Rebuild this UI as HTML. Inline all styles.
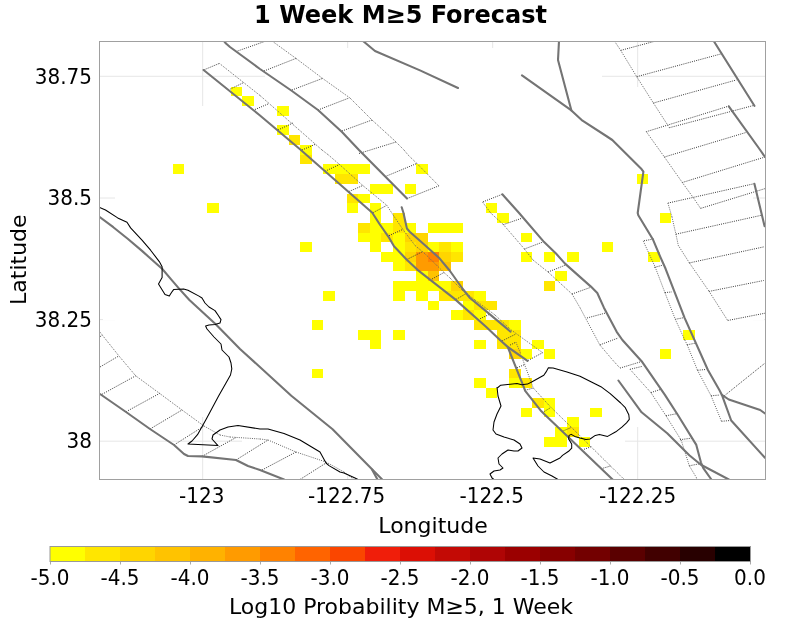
<!DOCTYPE html>
<html><head><meta charset="utf-8"><style>
html,body{margin:0;padding:0;background:#fff;width:800px;height:627px;overflow:hidden}
svg{display:block;will-change:transform}
text{font-family:"DejaVu Sans","Liberation Sans",sans-serif;fill:#000}
.t20{font-size:20px}
.t22{font-size:22px}
.title{font-size:24px;font-weight:bold}
</style></head><body>
<svg width="800" height="627" viewBox="0 0 800 627">
<defs><clipPath id="pc"><rect x="99.5" y="41.5" width="666.0" height="438.0"/></clipPath></defs>
<text x="400.5" y="23" class="title" text-anchor="middle">1 Week M≥5 Forecast</text>
<rect x="99.5" y="41.5" width="666.0" height="438.0" fill="#fff"/>
<g clip-path="url(#pc)">
<line x1="99.5" y1="76.3" x2="765.5" y2="76.3" stroke="#e6e6e6" stroke-width="1"/>
<line x1="99.5" y1="198.0" x2="765.5" y2="198.0" stroke="#e6e6e6" stroke-width="1"/>
<line x1="99.5" y1="319.6" x2="765.5" y2="319.6" stroke="#e6e6e6" stroke-width="1"/>
<line x1="99.5" y1="441.2" x2="765.5" y2="441.2" stroke="#e6e6e6" stroke-width="1"/>
<line x1="202.7" y1="41.5" x2="202.7" y2="479.5" stroke="#e6e6e6" stroke-width="1"/>
<line x1="347.7" y1="41.5" x2="347.7" y2="479.5" stroke="#e6e6e6" stroke-width="1"/>
<line x1="492.7" y1="41.5" x2="492.7" y2="479.5" stroke="#e6e6e6" stroke-width="1"/>
<line x1="637.7" y1="41.5" x2="637.7" y2="479.5" stroke="#e6e6e6" stroke-width="1"/>
<g shape-rendering="crispEdges" fill="#fff">
<rect x="416.14" y="37.92" width="34.80" height="9.73"/>
<rect x="334.94" y="47.65" width="197.20" height="9.73"/>
<rect x="288.54" y="57.38" width="290.00" height="9.73"/>
<rect x="265.34" y="67.11" width="336.40" height="9.73"/>
<rect x="242.14" y="76.84" width="382.80" height="9.73"/>
<rect x="218.94" y="86.57" width="429.20" height="9.73"/>
<rect x="207.34" y="96.30" width="452.40" height="9.73"/>
<rect x="184.14" y="106.03" width="498.80" height="9.73"/>
<rect x="172.54" y="115.76" width="522.00" height="9.73"/>
<rect x="160.94" y="125.49" width="545.20" height="9.73"/>
<rect x="149.34" y="135.22" width="568.40" height="9.73"/>
<rect x="137.74" y="144.95" width="591.60" height="9.73"/>
<rect x="137.74" y="154.68" width="591.60" height="9.73"/>
<rect x="126.14" y="164.41" width="614.80" height="9.73"/>
<rect x="114.54" y="174.14" width="638.00" height="9.73"/>
<rect x="114.54" y="183.87" width="638.00" height="9.73"/>
<rect x="114.54" y="193.60" width="638.00" height="9.73"/>
<rect x="102.94" y="203.33" width="661.20" height="9.73"/>
<rect x="102.94" y="213.06" width="661.20" height="9.73"/>
<rect x="102.94" y="222.79" width="661.20" height="9.73"/>
<rect x="102.94" y="232.52" width="661.20" height="9.73"/>
<rect x="91.34" y="242.25" width="684.40" height="9.73"/>
<rect x="91.34" y="251.98" width="684.40" height="9.73"/>
<rect x="91.34" y="261.71" width="684.40" height="9.73"/>
<rect x="91.34" y="271.44" width="684.40" height="9.73"/>
<rect x="102.94" y="281.17" width="661.20" height="9.73"/>
<rect x="102.94" y="290.90" width="661.20" height="9.73"/>
<rect x="102.94" y="300.63" width="661.20" height="9.73"/>
<rect x="102.94" y="310.36" width="661.20" height="9.73"/>
<rect x="114.54" y="320.09" width="638.00" height="9.73"/>
<rect x="114.54" y="329.82" width="638.00" height="9.73"/>
<rect x="126.14" y="339.55" width="614.80" height="9.73"/>
<rect x="126.14" y="349.28" width="614.80" height="9.73"/>
<rect x="137.74" y="359.01" width="591.60" height="9.73"/>
<rect x="149.34" y="368.74" width="568.40" height="9.73"/>
<rect x="160.94" y="378.47" width="556.80" height="9.73"/>
<rect x="160.94" y="388.20" width="545.20" height="9.73"/>
<rect x="184.14" y="397.93" width="498.80" height="9.73"/>
<rect x="195.74" y="407.66" width="475.60" height="9.73"/>
<rect x="207.34" y="417.39" width="452.40" height="9.73"/>
<rect x="230.54" y="427.12" width="406.00" height="9.73"/>
<rect x="242.14" y="436.85" width="382.80" height="9.73"/>
<rect x="276.94" y="446.58" width="313.20" height="9.73"/>
<rect x="300.14" y="456.31" width="266.80" height="9.73"/>
<rect x="346.54" y="466.04" width="174.00" height="9.73"/>
</g>
<g shape-rendering="crispEdges">
<rect x="172.54" y="164.41" width="11.6" height="9.73" fill="rgb(255, 255, 0)"/>
<rect x="207.34" y="203.33" width="11.6" height="9.73" fill="rgb(255, 255, 0)"/>
<rect x="230.54" y="86.57" width="11.6" height="9.73" fill="rgb(255, 255, 0)"/>
<rect x="242.14" y="96.30" width="11.6" height="9.73" fill="rgb(255, 255, 0)"/>
<rect x="276.94" y="106.03" width="11.6" height="9.73" fill="rgb(255, 255, 0)"/>
<rect x="276.94" y="125.49" width="11.6" height="9.73" fill="rgb(255, 255, 0)"/>
<rect x="288.54" y="135.22" width="11.6" height="9.73" fill="rgb(255, 230, 0)"/>
<rect x="300.14" y="144.95" width="11.6" height="9.73" fill="rgb(255, 255, 0)"/>
<rect x="300.14" y="154.68" width="11.6" height="9.73" fill="rgb(255, 230, 0)"/>
<rect x="323.34" y="164.41" width="11.6" height="9.73" fill="rgb(255, 255, 0)"/>
<rect x="334.94" y="164.41" width="11.6" height="9.73" fill="rgb(255, 255, 0)"/>
<rect x="346.54" y="164.41" width="11.6" height="9.73" fill="rgb(255, 255, 0)"/>
<rect x="358.14" y="164.41" width="11.6" height="9.73" fill="rgb(255, 255, 0)"/>
<rect x="416.14" y="164.41" width="11.6" height="9.73" fill="rgb(255, 255, 0)"/>
<rect x="334.94" y="174.14" width="11.6" height="9.73" fill="rgb(255, 230, 0)"/>
<rect x="346.54" y="174.14" width="11.6" height="9.73" fill="rgb(255, 230, 0)"/>
<rect x="369.74" y="183.87" width="11.6" height="9.73" fill="rgb(255, 255, 0)"/>
<rect x="381.34" y="183.87" width="11.6" height="9.73" fill="rgb(255, 255, 0)"/>
<rect x="404.54" y="183.87" width="11.6" height="9.73" fill="rgb(255, 255, 0)"/>
<rect x="346.54" y="193.60" width="11.6" height="9.73" fill="rgb(255, 230, 0)"/>
<rect x="358.14" y="193.60" width="11.6" height="9.73" fill="rgb(255, 255, 0)"/>
<rect x="346.54" y="203.33" width="11.6" height="9.73" fill="rgb(255, 255, 0)"/>
<rect x="369.74" y="203.33" width="11.6" height="9.73" fill="rgb(255, 255, 0)"/>
<rect x="485.74" y="203.33" width="11.6" height="9.73" fill="rgb(255, 255, 0)"/>
<rect x="369.74" y="213.06" width="11.6" height="9.73" fill="rgb(255, 255, 0)"/>
<rect x="392.94" y="213.06" width="11.6" height="9.73" fill="rgb(255, 230, 0)"/>
<rect x="497.34" y="213.06" width="11.6" height="9.73" fill="rgb(255, 255, 0)"/>
<rect x="659.74" y="213.06" width="11.6" height="9.73" fill="rgb(255, 255, 0)"/>
<rect x="636.54" y="174.14" width="11.6" height="9.73" fill="rgb(255, 255, 0)"/>
<rect x="358.14" y="222.79" width="11.6" height="9.73" fill="rgb(255, 230, 0)"/>
<rect x="369.74" y="222.79" width="11.6" height="9.73" fill="rgb(255, 255, 0)"/>
<rect x="381.34" y="222.79" width="11.6" height="9.73" fill="rgb(255, 255, 0)"/>
<rect x="392.94" y="222.79" width="11.6" height="9.73" fill="rgb(255, 230, 0)"/>
<rect x="404.54" y="222.79" width="11.6" height="9.73" fill="rgb(255, 255, 0)"/>
<rect x="427.74" y="222.79" width="11.6" height="9.73" fill="rgb(255, 255, 0)"/>
<rect x="439.34" y="222.79" width="11.6" height="9.73" fill="rgb(255, 255, 0)"/>
<rect x="450.94" y="222.79" width="11.6" height="9.73" fill="rgb(255, 255, 0)"/>
<rect x="358.14" y="232.52" width="11.6" height="9.73" fill="rgb(255, 255, 0)"/>
<rect x="369.74" y="232.52" width="11.6" height="9.73" fill="rgb(255, 255, 0)"/>
<rect x="381.34" y="232.52" width="11.6" height="9.73" fill="rgb(255, 230, 0)"/>
<rect x="392.94" y="232.52" width="11.6" height="9.73" fill="rgb(255, 255, 0)"/>
<rect x="404.54" y="232.52" width="11.6" height="9.73" fill="rgb(255, 213, 0)"/>
<rect x="416.14" y="232.52" width="11.6" height="9.73" fill="rgb(255, 213, 0)"/>
<rect x="520.54" y="232.52" width="11.6" height="9.73" fill="rgb(255, 255, 0)"/>
<rect x="300.14" y="242.25" width="11.6" height="9.73" fill="rgb(255, 255, 0)"/>
<rect x="369.74" y="242.25" width="11.6" height="9.73" fill="rgb(255, 255, 0)"/>
<rect x="392.94" y="242.25" width="11.6" height="9.73" fill="rgb(255, 255, 0)"/>
<rect x="404.54" y="242.25" width="11.6" height="9.73" fill="rgb(255, 230, 0)"/>
<rect x="416.14" y="242.25" width="11.6" height="9.73" fill="rgb(255, 213, 0)"/>
<rect x="427.74" y="242.25" width="11.6" height="9.73" fill="rgb(255, 255, 0)"/>
<rect x="439.34" y="242.25" width="11.6" height="9.73" fill="rgb(255, 230, 0)"/>
<rect x="450.94" y="242.25" width="11.6" height="9.73" fill="rgb(255, 255, 0)"/>
<rect x="601.74" y="242.25" width="11.6" height="9.73" fill="rgb(255, 255, 0)"/>
<rect x="381.34" y="251.98" width="11.6" height="9.73" fill="rgb(255, 255, 0)"/>
<rect x="392.94" y="251.98" width="11.6" height="9.73" fill="rgb(255, 255, 0)"/>
<rect x="404.54" y="251.98" width="11.6" height="9.73" fill="rgb(255, 213, 0)"/>
<rect x="416.14" y="251.98" width="11.6" height="9.73" fill="rgb(255, 155, 0)"/>
<rect x="427.74" y="251.98" width="11.6" height="9.73" fill="rgb(255, 130, 0)"/>
<rect x="439.34" y="251.98" width="11.6" height="9.73" fill="rgb(255, 213, 0)"/>
<rect x="450.94" y="251.98" width="11.6" height="9.73" fill="rgb(255, 230, 0)"/>
<rect x="520.54" y="251.98" width="11.6" height="9.73" fill="rgb(255, 255, 0)"/>
<rect x="543.74" y="251.98" width="11.6" height="9.73" fill="rgb(255, 255, 0)"/>
<rect x="566.94" y="251.98" width="11.6" height="9.73" fill="rgb(255, 255, 0)"/>
<rect x="648.14" y="251.98" width="11.6" height="9.73" fill="rgb(255, 255, 0)"/>
<rect x="392.94" y="261.71" width="11.6" height="9.73" fill="rgb(255, 255, 0)"/>
<rect x="404.54" y="261.71" width="11.6" height="9.73" fill="rgb(255, 230, 0)"/>
<rect x="416.14" y="261.71" width="11.6" height="9.73" fill="rgb(255, 155, 0)"/>
<rect x="427.74" y="261.71" width="11.6" height="9.73" fill="rgb(255, 155, 0)"/>
<rect x="439.34" y="261.71" width="11.6" height="9.73" fill="rgb(255, 195, 0)"/>
<rect x="416.14" y="271.44" width="11.6" height="9.73" fill="rgb(255, 255, 0)"/>
<rect x="427.74" y="271.44" width="11.6" height="9.73" fill="rgb(255, 195, 0)"/>
<rect x="555.34" y="271.44" width="11.6" height="9.73" fill="rgb(255, 255, 0)"/>
<rect x="392.94" y="281.17" width="11.6" height="9.73" fill="rgb(255, 255, 0)"/>
<rect x="404.54" y="281.17" width="11.6" height="9.73" fill="rgb(255, 255, 0)"/>
<rect x="416.14" y="281.17" width="11.6" height="9.73" fill="rgb(255, 255, 0)"/>
<rect x="427.74" y="281.17" width="11.6" height="9.73" fill="rgb(255, 255, 0)"/>
<rect x="439.34" y="281.17" width="11.6" height="9.73" fill="rgb(255, 255, 0)"/>
<rect x="450.94" y="281.17" width="11.6" height="9.73" fill="rgb(255, 213, 0)"/>
<rect x="543.74" y="281.17" width="11.6" height="9.73" fill="rgb(255, 230, 0)"/>
<rect x="323.34" y="290.90" width="11.6" height="9.73" fill="rgb(255, 255, 0)"/>
<rect x="392.94" y="290.90" width="11.6" height="9.73" fill="rgb(255, 255, 0)"/>
<rect x="416.14" y="290.90" width="11.6" height="9.73" fill="rgb(255, 255, 0)"/>
<rect x="439.34" y="290.90" width="11.6" height="9.73" fill="rgb(255, 230, 0)"/>
<rect x="450.94" y="290.90" width="11.6" height="9.73" fill="rgb(255, 230, 0)"/>
<rect x="462.54" y="290.90" width="11.6" height="9.73" fill="rgb(255, 230, 0)"/>
<rect x="474.14" y="290.90" width="11.6" height="9.73" fill="rgb(255, 255, 0)"/>
<rect x="427.74" y="300.63" width="11.6" height="9.73" fill="rgb(255, 255, 0)"/>
<rect x="462.54" y="300.63" width="11.6" height="9.73" fill="rgb(255, 255, 0)"/>
<rect x="474.14" y="300.63" width="11.6" height="9.73" fill="rgb(255, 230, 0)"/>
<rect x="485.74" y="300.63" width="11.6" height="9.73" fill="rgb(255, 230, 0)"/>
<rect x="450.94" y="310.36" width="11.6" height="9.73" fill="rgb(255, 255, 0)"/>
<rect x="462.54" y="310.36" width="11.6" height="9.73" fill="rgb(255, 230, 0)"/>
<rect x="474.14" y="310.36" width="11.6" height="9.73" fill="rgb(255, 255, 0)"/>
<rect x="311.74" y="320.09" width="11.6" height="9.73" fill="rgb(255, 255, 0)"/>
<rect x="474.14" y="320.09" width="11.6" height="9.73" fill="rgb(255, 230, 0)"/>
<rect x="485.74" y="320.09" width="11.6" height="9.73" fill="rgb(255, 230, 0)"/>
<rect x="497.34" y="320.09" width="11.6" height="9.73" fill="rgb(255, 230, 0)"/>
<rect x="508.94" y="320.09" width="11.6" height="9.73" fill="rgb(255, 255, 0)"/>
<rect x="358.14" y="329.82" width="11.6" height="9.73" fill="rgb(255, 255, 0)"/>
<rect x="369.74" y="329.82" width="11.6" height="9.73" fill="rgb(255, 255, 0)"/>
<rect x="392.94" y="329.82" width="11.6" height="9.73" fill="rgb(255, 255, 0)"/>
<rect x="497.34" y="329.82" width="11.6" height="9.73" fill="rgb(255, 230, 0)"/>
<rect x="508.94" y="329.82" width="11.6" height="9.73" fill="rgb(255, 230, 0)"/>
<rect x="682.94" y="329.82" width="11.6" height="9.73" fill="rgb(255, 255, 0)"/>
<rect x="369.74" y="339.55" width="11.6" height="9.73" fill="rgb(255, 255, 0)"/>
<rect x="474.14" y="339.55" width="11.6" height="9.73" fill="rgb(255, 255, 0)"/>
<rect x="497.34" y="339.55" width="11.6" height="9.73" fill="rgb(255, 230, 0)"/>
<rect x="508.94" y="339.55" width="11.6" height="9.73" fill="rgb(255, 230, 0)"/>
<rect x="532.14" y="339.55" width="11.6" height="9.73" fill="rgb(255, 255, 0)"/>
<rect x="508.94" y="349.28" width="11.6" height="9.73" fill="rgb(255, 213, 0)"/>
<rect x="520.54" y="349.28" width="11.6" height="9.73" fill="rgb(255, 255, 0)"/>
<rect x="543.74" y="349.28" width="11.6" height="9.73" fill="rgb(255, 255, 0)"/>
<rect x="659.74" y="349.28" width="11.6" height="9.73" fill="rgb(255, 255, 0)"/>
<rect x="311.74" y="368.74" width="11.6" height="9.73" fill="rgb(255, 255, 0)"/>
<rect x="508.94" y="368.74" width="11.6" height="9.73" fill="rgb(255, 230, 0)"/>
<rect x="474.14" y="378.47" width="11.6" height="9.73" fill="rgb(255, 255, 0)"/>
<rect x="508.94" y="378.47" width="11.6" height="9.73" fill="rgb(255, 255, 0)"/>
<rect x="520.54" y="378.47" width="11.6" height="9.73" fill="rgb(255, 230, 0)"/>
<rect x="485.74" y="388.20" width="11.6" height="9.73" fill="rgb(255, 255, 0)"/>
<rect x="532.14" y="397.93" width="11.6" height="9.73" fill="rgb(255, 230, 0)"/>
<rect x="543.74" y="397.93" width="11.6" height="9.73" fill="rgb(255, 255, 0)"/>
<rect x="520.54" y="407.66" width="11.6" height="9.73" fill="rgb(255, 255, 0)"/>
<rect x="543.74" y="407.66" width="11.6" height="9.73" fill="rgb(255, 255, 0)"/>
<rect x="590.14" y="407.66" width="11.6" height="9.73" fill="rgb(255, 255, 0)"/>
<rect x="566.94" y="417.39" width="11.6" height="9.73" fill="rgb(255, 255, 0)"/>
<rect x="555.34" y="427.12" width="11.6" height="9.73" fill="rgb(255, 255, 0)"/>
<rect x="566.94" y="427.12" width="11.6" height="9.73" fill="rgb(255, 230, 0)"/>
<rect x="543.74" y="436.85" width="11.6" height="9.73" fill="rgb(255, 255, 0)"/>
<rect x="555.34" y="436.85" width="11.6" height="9.73" fill="rgb(255, 255, 0)"/>
<rect x="578.54" y="436.85" width="11.6" height="9.73" fill="rgb(255, 255, 0)"/>
</g>
<path d="M203.6,70.0L219.4,63.4M542.6,352.7L527.5,360.8M230.4,89.0L243.6,82.6M255.0,109.5L269.0,103.6M278.0,130.0L293.0,123.0M302.0,150.0L316.0,144.0M325.0,171.3L339.5,164.5M348.8,191.6L362.8,185.5M372.8,212.8L386.5,205.5M389.0,235.7L402.4,229.6M407.5,259.2L422.0,251.9M432.0,279.0L444.0,272.5M456.0,299.5L467.0,293.0M480.2,318.7L490.0,314.0M501.9,341.0L515.9,334.0M510.0,345.1L515.9,342.2M438.9,185.8L407.0,198.6M237.6,51.0L266.0,41.0M264.0,71.0L296.0,58.4M292.0,90.0L322.0,78.6M318.0,110.0L349.0,98.0M342.0,131.0L372.0,120.0M359.0,153.5L396.0,142.0M386.6,176.0L417.0,163.4M502.3,194.3L482.5,202.0M620.0,368.1L640.0,362.0M503.4,224.6L522.0,218.2M524.4,249.0L543.0,242.0M548.0,272.0L565.0,265.3M572.0,294.0L590.5,287.4M587.0,318.0L605.6,313.0M599.8,344.9L618.4,337.9M653.6,239.0L643.2,240.9M721.5,421.3L730.2,420.5M654.4,267.4L662.3,265.3M664.9,292.6L671.9,291.9M675.3,319.3L683.5,317.7M687.2,344.8L695.2,343.2M697.5,370.3L705.5,369.5M711.1,395.8L719.9,395.0M641.6,366.5L630.0,369.3M650.9,392.6L661.4,389.1M666.0,415.8L677.7,413.5M680.0,439.7L692.0,438.1M689.3,465.8L700.9,463.5M517.0,367.8L525.2,364.3M525.2,390.3L533.3,388.0M543.8,411.8L550.0,408.0M563.5,430.8L570.7,427.7M584.0,449.3L591.2,446.7M603.3,468.1L611.4,465.8M669.4,127.7L754.6,105.2M620.7,50.4L655.8,41.0M636.7,76.7L720.7,54.0M653.4,103.0L736.3,80.0M729.1,106.0L646.3,131.7M700.6,208.4L766.0,188.3M664.4,157.0L746.6,132.3M682.3,182.5L765.0,157.0M754.6,183.6L667.9,203.1M727.7,320.5L766.0,313.0M675.9,234.2L761.8,215.2M689.4,262.9L764.6,246.7M709.1,291.4L763.7,280.5M722.3,397.4L766.0,362.3M100.0,336.7L102.2,335.2M100.0,367.0L118.9,355.9M102.2,394.2L135.7,375.8M126.1,411.7L159.6,393.4M150.0,429.0L182.0,410.0M174.0,445.0L204.0,426.0M202.0,456.4L236.0,437.5M236.0,460.0L268.0,440.0M262.0,470.0L296.0,452.0M300.0,479.5L326.0,463.0" fill="none" stroke="#3a3a3a" stroke-width="1" stroke-dasharray="1 1.2"/>
<path d="M219.4,63.4L260.0,95.5M260.0,95.5L322.0,150.0M322.0,150.0L328.5,155.0M328.5,155.0L339.5,164.5M339.5,164.5L362.8,185.5M362.8,185.5L386.8,205.3M386.8,205.3L393.5,215.6M393.5,215.6L403.0,229.6M403.0,229.6L415.3,245.8M415.3,245.8L424.2,253.0M424.2,253.0L444.0,272.5M444.0,272.5L450.0,278.0M450.0,278.0L462.0,290.0M462.0,290.0L475.0,300.0M475.0,300.0L495.0,315.0M495.0,315.0L511.2,330.0M511.2,330.0L542.6,352.7M515.9,342.2L520.5,353.3M272.0,41.0L296.0,58.4M296.0,58.4L322.0,78.0M322.0,78.0L350.0,98.0M350.0,98.0L372.0,120.0M372.0,120.0L395.0,141.0M395.0,141.0L404.0,150.0M404.0,150.0L408.1,155.0M408.1,155.0L416.8,163.4M416.8,163.4L438.9,185.8M482.5,202.0L490.7,213.0M490.7,213.0L503.4,224.6M503.4,224.6L524.4,249.0M524.4,249.0L533.0,260.0M533.0,260.0L548.0,272.0M548.0,272.0L572.0,294.0M572.0,294.0L580.0,307.7M580.0,307.7L599.8,344.9M599.8,344.9L612.6,360.0M612.6,360.0L620.0,368.1M643.2,240.9L655.2,267.1M655.2,267.1L664.9,292.6M664.9,292.6L675.3,319.3M675.3,319.3L684.8,340.0M684.8,340.0L687.2,344.8M687.2,344.8L697.5,370.3M697.5,370.3L711.1,395.8M711.1,395.8L721.5,421.3M630.0,369.3L650.9,392.6M650.9,392.6L666.0,415.8M666.0,415.8L681.2,440.2M681.2,440.2L689.3,465.8M689.3,465.8L696.3,477.4M696.3,477.4L697.0,480.0M522.8,359.7L533.3,388.0M533.3,388.0L549.6,406.0M549.6,406.0L567.0,423.0M567.0,423.0L601.4,457.0M601.4,457.0L624.2,479.5M614.4,41.0L620.7,50.4M620.7,50.4L636.7,76.7M636.7,76.7L653.4,103.0M653.4,103.0L669.4,127.7M646.3,131.7L664.4,157.0M664.4,157.0L682.3,182.5M682.3,182.5L693.8,198.4M693.8,198.4L700.6,208.4M667.9,203.1L671.9,216.7M671.9,216.7L675.9,234.2M675.9,234.2L678.3,245.4M678.3,245.4L689.4,262.9M689.4,262.9L709.1,291.4M709.1,291.4L727.7,320.5M99.8,332.0L118.9,355.9M118.9,355.9L135.7,375.8M135.7,375.8L159.6,393.4M159.6,393.4L182.0,410.0M182.0,410.0L204.0,426.0M204.0,426.0L220.0,435.0M220.0,435.0L230.0,437.0M230.0,437.0L260.0,439.0M260.0,439.0L268.0,440.0M268.0,440.0L296.0,452.0M296.0,452.0L326.0,462.0M326.0,462.0L344.0,472.0M344.0,472.0L354.0,479.5" fill="none" stroke="#666" stroke-width="1" stroke-dasharray="1 1.2"/>
<polyline points="203.6,70.0 260.0,115.5 300.0,149.3 372.3,212.8 379.5,224.0 388.5,236.8 394.0,246.3 406.3,259.2 417.5,269.8 454.6,298.9 486.0,326.8 500.0,340.0 507.7,346.9 527.5,360.8" fill="none" stroke="#747474" stroke-width="2.1" stroke-linecap="round" stroke-linejoin="round"/>
<polyline points="224.0,41.0 226.0,43.5 230.0,47.0 260.0,69.0 292.0,91.0 318.0,110.0 342.0,132.0 359.0,150.0 407.0,198.6" fill="none" stroke="#747474" stroke-width="2.1" stroke-linecap="round" stroke-linejoin="round"/>
<polyline points="363.0,41.0 375.0,51.0 420.0,70.4 458.0,88.0" fill="none" stroke="#747474" stroke-width="2.1" stroke-linecap="round" stroke-linejoin="round"/>
<polyline points="559.0,41.0 558.0,60.0 571.4,110.4" fill="none" stroke="#747474" stroke-width="2.1" stroke-linecap="round" stroke-linejoin="round"/>
<polyline points="522.0,75.4 571.4,110.4 582.5,120.7 607.0,136.5 612.3,140.0 641.5,169.1 643.4,171.7 637.7,213.0 638.3,215.3 652.8,239.2 660.4,257.2 665.6,268.8 684.7,318.1 707.9,370.0 719.5,390.2 721.9,394.9 731.2,420.5 764.9,457.7" fill="none" stroke="#747474" stroke-width="2.1" stroke-linecap="round" stroke-linejoin="round"/>
<polyline points="721.9,394.9 728.8,399.5 760.2,410.0 765.0,413.5" fill="none" stroke="#747474" stroke-width="2.1" stroke-linecap="round" stroke-linejoin="round"/>
<polyline points="713.7,41.0 754.4,105.8" fill="none" stroke="#747474" stroke-width="2.1" stroke-linecap="round" stroke-linejoin="round"/>
<polyline points="728.8,106.3 760.2,150.0 765.0,157.0" fill="none" stroke="#747474" stroke-width="2.1" stroke-linecap="round" stroke-linejoin="round"/>
<polyline points="99.0,216.5 113.3,227.2 127.7,238.7 142.0,250.9 156.4,263.8 162.1,268.8 170.7,278.9 179.3,288.9 189.4,300.0 216.0,324.5 240.0,348.9 291.3,395.8 332.6,429.3 374.5,471.7 382.2,479.5" fill="none" stroke="#747474" stroke-width="2.1" stroke-linecap="round" stroke-linejoin="round"/>
<polyline points="372.0,469.5 377.5,479.5" fill="none" stroke="#747474" stroke-width="2.1" stroke-linecap="round" stroke-linejoin="round"/>
<polyline points="401.7,207.3 403.5,213.0 406.9,228.5 409.7,231.8 425.0,245.2 439.5,258.3 450.0,271.0 462.0,288.0 470.0,298.0 486.0,311.1 510.6,331.7" fill="none" stroke="#747474" stroke-width="2.1" stroke-linecap="round" stroke-linejoin="round"/>
<polyline points="502.3,194.3 519.1,213.0 544.1,242.1 556.0,253.5 565.0,263.6 590.9,286.6 597.3,293.0 603.8,307.4 616.7,331.8 622.4,340.0 641.6,361.2 664.9,394.9 677.7,414.7 696.3,444.9 700.9,462.3 703.3,468.1 711.4,479.5" fill="none" stroke="#747474" stroke-width="2.1" stroke-linecap="round" stroke-linejoin="round"/>
<polyline points="754.4,183.7 764.6,226.3" fill="none" stroke="#747474" stroke-width="2.1" stroke-linecap="round" stroke-linejoin="round"/>
<polyline points="507.7,346.9 524.0,387.6 525.2,390.9 541.4,411.3 544.9,414.7 589.1,457.0 612.6,479.5" fill="none" stroke="#747474" stroke-width="2.1" stroke-linecap="round" stroke-linejoin="round"/>
<polyline points="100.0,394.0 126.0,412.0 150.0,429.0 174.0,445.0 184.0,454.0 188.0,456.0 202.0,456.4 236.0,460.0 240.0,462.0 248.0,466.0 260.0,470.0 284.0,479.5" fill="none" stroke="#747474" stroke-width="2.1" stroke-linecap="round" stroke-linejoin="round"/>
<polyline points="618.4,380.5 641.6,412.3 667.2,433.3 689.3,455.3 700.9,464.7 728.8,479.5" fill="none" stroke="#747474" stroke-width="2.1" stroke-linecap="round" stroke-linejoin="round"/>
<polyline points="99.0,207.2 105.5,210.0 117.7,217.9 127.0,222.2 130.6,227.9 142.0,240.1 150.6,250.2 159.3,261.6 162.1,266.7 162.1,277.4 158.5,283.9 165.0,294.6 169.3,296.1 171.5,292.5 173.6,289.6 183.6,288.9 188.0,290.3 199.0,296.1 202.0,298.0 205.0,303.0 209.0,307.0 215.0,310.6 218.0,315.0 221.0,319.6 220.0,323.0 215.0,324.4 209.0,325.0 205.6,326.0 207.0,329.0 214.0,337.0 221.0,344.0 222.0,350.0 225.0,353.0 229.0,357.0 231.0,363.0 231.8,368.9 230.5,375.0 227.4,380.4 218.6,396.1 206.3,419.0 197.5,434.7 192.0,441.0 188.0,444.0 218.0,445.6 212.0,439.0 213.0,435.0 220.0,430.0 228.0,427.0 238.0,425.6 260.0,429.0 268.0,429.0 284.0,433.6 300.0,440.0 310.0,446.0 320.0,452.0 326.0,463.0 329.0,465.6 340.0,472.0 344.0,473.0 355.0,478.0 358.0,479.5" fill="none" stroke="#000" stroke-width="1.05" stroke-linejoin="round"/>
<polyline points="497.0,387.0 498.0,396.0 501.0,406.0 497.0,414.0 494.0,422.0 493.0,430.0 496.0,434.0 504.0,437.0 514.0,440.0 520.0,444.0 522.0,448.0 518.0,451.0 514.0,451.0 508.0,450.0 502.0,454.0 498.0,458.0 499.0,464.0 503.0,468.0 500.0,470.0 494.0,471.0 490.0,474.0 492.0,478.0 494.0,479.5" fill="none" stroke="#000" stroke-width="1.05" stroke-linejoin="round"/>
<polyline points="497.3,388.0 500.7,385.2 517.0,383.5 521.7,384.7 527.5,384.1 532.1,381.7 543.8,375.3 546.1,371.9 548.4,367.8 553.1,368.1 567.0,371.9 580.0,376.3 600.9,386.7 610.2,393.7 620.7,403.0 625.3,407.7 628.8,414.7 629.3,419.3 626.5,422.8 621.9,427.2 615.8,431.8 607.6,436.4 599.4,434.4 595.3,435.4 590.1,439.0 586.0,439.5 579.9,438.0 574.8,436.4 571.2,434.4 569.1,435.4 568.6,439.0 571.7,444.1 571.7,448.2 568.6,451.3 562.5,455.4 560.0,458.0 550.0,463.0 540.0,459.0 533.0,458.0 538.0,466.0 544.0,472.0 552.0,476.0 558.0,479.5" fill="none" stroke="#000" stroke-width="1.05" stroke-linejoin="round"/>
</g>
<rect x="99.5" y="41.5" width="666.0" height="438.0" fill="none" stroke="#a0a0a0" stroke-width="1"/>
<text transform="translate(92,83.55) scale(1,1.035)" class="t20" text-anchor="end">38.75</text>
<text transform="translate(92,205.25) scale(1,1.035)" class="t20" text-anchor="end">38.5</text>
<text transform="translate(92,326.75) scale(1,1.035)" class="t20" text-anchor="end">38.25</text>
<text transform="translate(92,448.35) scale(1,1.035)" class="t20" text-anchor="end">38</text>
<text transform="translate(201.7,503) scale(1,1.035)" class="t20" text-anchor="middle">-123</text>
<text transform="translate(346.7,503) scale(1,1.035)" class="t20" text-anchor="middle">-122.75</text>
<text transform="translate(491.7,503) scale(1,1.035)" class="t20" text-anchor="middle">-122.5</text>
<text transform="translate(637.7,503) scale(1,1.035)" class="t20" text-anchor="middle">-122.25</text>
<text x="433" y="532.6" class="t22" text-anchor="middle">Longitude</text>
<text transform="translate(25.5,259.7) rotate(-90)" class="t22" text-anchor="middle">Latitude</text>
<rect x="50" y="546.5" width="35" height="15" fill="rgb(255, 255, 0)"/>
<rect x="85" y="546.5" width="35" height="15" fill="rgb(255, 230, 0)"/>
<rect x="120" y="546.5" width="35" height="15" fill="rgb(255, 213, 0)"/>
<rect x="155" y="546.5" width="35" height="15" fill="rgb(255, 195, 0)"/>
<rect x="190" y="546.5" width="35" height="15" fill="rgb(255, 178, 0)"/>
<rect x="225" y="546.5" width="35" height="15" fill="rgb(255, 155, 0)"/>
<rect x="260" y="546.5" width="35" height="15" fill="rgb(255, 130, 0)"/>
<rect x="295" y="546.5" width="35" height="15" fill="rgb(255, 100, 0)"/>
<rect x="330" y="546.5" width="35" height="15" fill="rgb(250, 70, 0)"/>
<rect x="365" y="546.5" width="35" height="15" fill="rgb(240, 30, 10)"/>
<rect x="400" y="546.5" width="35" height="15" fill="rgb(220, 15, 5)"/>
<rect x="435" y="546.5" width="35" height="15" fill="rgb(195, 10, 5)"/>
<rect x="470" y="546.5" width="35" height="15" fill="rgb(175, 5, 5)"/>
<rect x="505" y="546.5" width="35" height="15" fill="rgb(155, 0, 0)"/>
<rect x="540" y="546.5" width="35" height="15" fill="rgb(135, 0, 0)"/>
<rect x="575" y="546.5" width="35" height="15" fill="rgb(115, 0, 0)"/>
<rect x="610" y="546.5" width="35" height="15" fill="rgb(90, 0, 0)"/>
<rect x="645" y="546.5" width="35" height="15" fill="rgb(65, 0, 0)"/>
<rect x="680" y="546.5" width="35" height="15" fill="rgb(40, 0, 0)"/>
<rect x="715" y="546.5" width="35" height="15" fill="rgb(0, 0, 0)"/>
<rect x="50" y="546.5" width="700.5" height="15" fill="none" stroke="#999" stroke-width="1"/>
<line x1="50.5" y1="562" x2="50.5" y2="564.5" stroke="#aaa" stroke-width="1"/>
<text transform="translate(50,585) scale(1,1.035)" class="t20" text-anchor="middle">-5.0</text>
<line x1="120.5" y1="562" x2="120.5" y2="564.5" stroke="#aaa" stroke-width="1"/>
<text transform="translate(120,585) scale(1,1.035)" class="t20" text-anchor="middle">-4.5</text>
<line x1="190.5" y1="562" x2="190.5" y2="564.5" stroke="#aaa" stroke-width="1"/>
<text transform="translate(190,585) scale(1,1.035)" class="t20" text-anchor="middle">-4.0</text>
<line x1="260.5" y1="562" x2="260.5" y2="564.5" stroke="#aaa" stroke-width="1"/>
<text transform="translate(260,585) scale(1,1.035)" class="t20" text-anchor="middle">-3.5</text>
<line x1="330.5" y1="562" x2="330.5" y2="564.5" stroke="#aaa" stroke-width="1"/>
<text transform="translate(330,585) scale(1,1.035)" class="t20" text-anchor="middle">-3.0</text>
<line x1="400.5" y1="562" x2="400.5" y2="564.5" stroke="#aaa" stroke-width="1"/>
<text transform="translate(400,585) scale(1,1.035)" class="t20" text-anchor="middle">-2.5</text>
<line x1="470.5" y1="562" x2="470.5" y2="564.5" stroke="#aaa" stroke-width="1"/>
<text transform="translate(470,585) scale(1,1.035)" class="t20" text-anchor="middle">-2.0</text>
<line x1="540.5" y1="562" x2="540.5" y2="564.5" stroke="#aaa" stroke-width="1"/>
<text transform="translate(540,585) scale(1,1.035)" class="t20" text-anchor="middle">-1.5</text>
<line x1="610.5" y1="562" x2="610.5" y2="564.5" stroke="#aaa" stroke-width="1"/>
<text transform="translate(610,585) scale(1,1.035)" class="t20" text-anchor="middle">-1.0</text>
<line x1="680.5" y1="562" x2="680.5" y2="564.5" stroke="#aaa" stroke-width="1"/>
<text transform="translate(680,585) scale(1,1.035)" class="t20" text-anchor="middle">-0.5</text>
<line x1="750.5" y1="562" x2="750.5" y2="564.5" stroke="#aaa" stroke-width="1"/>
<text transform="translate(750,585) scale(1,1.035)" class="t20" text-anchor="middle">0.0</text>
<text x="401" y="614" class="t22" text-anchor="middle">Log10 Probability M≥5, 1 Week</text>
</svg>
</body></html>
